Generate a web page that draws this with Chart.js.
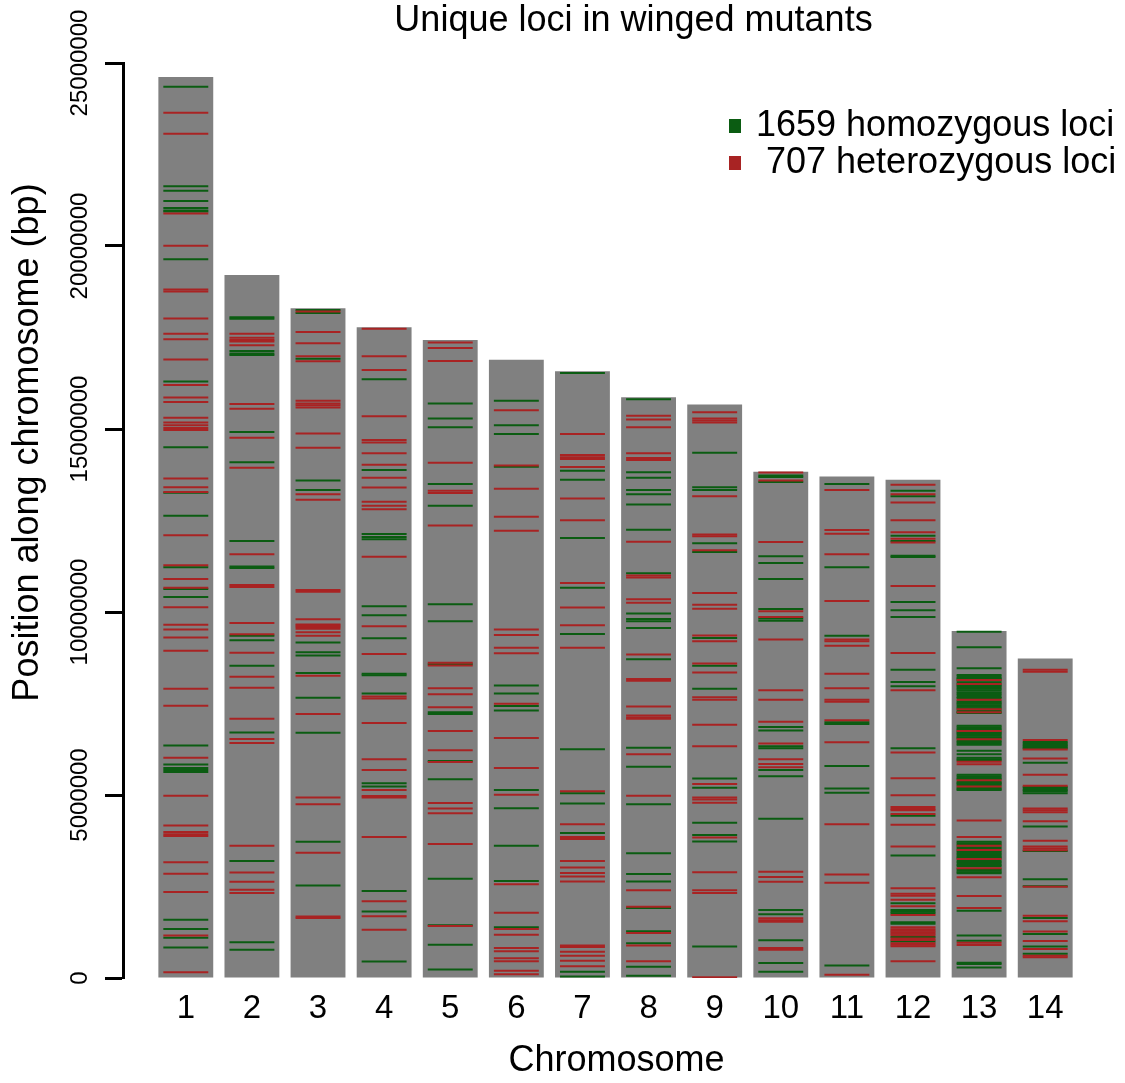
<!DOCTYPE html>
<html>
<head>
<meta charset="utf-8">
<title>Unique loci in winged mutants</title>
<script src="https://cdn.jsdelivr.net/npm/chart.js@4.4.1/dist/chart.umd.min.js"></script>
<style>
    html, body { margin: 0; padding: 0; background: #ffffff; }
    #wrap { width: 1125px; height: 1083px; }
</style>
</head>
<body>
<div id="wrap"><canvas id="lociChart" width="1125" height="1083"></canvas></div>
<script>
// Chromosome lengths (Mb) and locus positions (Mb), one inner list per chromosome
const chromosomes = [1, 2, 3, 4, 5, 6, 7, 8, 9, 10, 11, 12, 13, 14];
const chromLengthMb = [24.62, 19.21, 18.30, 17.78, 17.43, 16.89, 16.58, 15.87, 15.67, 13.83, 13.70, 13.61, 9.48, 8.73];
const yTicksMb = [0, 5, 10, 15, 20, 25];
const legendLabels = ['1659 homozygous loci', ' 707 heterozygous loci'];

const homozygousMb = [
    [24.35, 21.63, 21.51, 21.23, 21.04, 20.97, 20.94, 19.64, 16.30, 14.50, 13.26, 12.63, 11.22, 10.63, 10.41, 6.35, 5.83, 5.74, 5.68, 5.63, 1.59, 1.34, 1.10, 0.83],
    [18.05, 18.01, 17.13, 17.06, 17.02, 14.92, 14.09, 11.94, 11.24, 11.20, 9.35, 9.23, 8.53, 6.71, 3.20, 0.98, 0.77],
    [18.25, 18.17, 16.92, 13.59, 13.33, 9.17, 8.90, 8.81, 8.33, 7.66, 6.70, 3.72, 2.53],
    [16.36, 13.88, 12.13, 12.05, 11.99, 10.16, 9.91, 9.28, 8.31, 8.27, 7.77, 5.32, 5.23, 2.38, 1.82, 0.45],
    [15.70, 15.29, 15.05, 13.50, 12.90, 10.21, 9.75, 8.57, 7.26, 7.21, 5.93, 5.43, 2.71, 1.44, 0.91, 0.23],
    [15.77, 15.10, 14.86, 13.97, 7.99, 7.77, 7.43, 7.31, 5.14, 4.64, 3.61, 2.65, 1.39],
    [16.53, 13.86, 13.61, 12.02, 10.66, 9.40, 6.25, 5.05, 4.77, 3.96, 0.17, 0.04],
    [15.81, 13.82, 13.67, 13.33, 13.22, 12.94, 12.25, 11.06, 9.96, 9.81, 9.75, 9.56, 8.71, 6.29, 5.77, 4.75, 3.41, 2.84, 2.64, 1.91, 1.28, 0.95, 0.31, 0.06],
    [14.35, 13.41, 13.33, 11.88, 11.64, 9.29, 8.53, 7.90, 5.45, 5.20, 4.24, 3.91, 3.73, 0.86],
    [13.73, 13.69, 13.55, 11.52, 11.34, 10.90, 10.08, 9.82, 9.76, 6.86, 6.76, 6.33, 6.28, 5.68, 5.51, 4.35, 1.86, 1.74, 1.03, 0.41, 0.17],
    [13.50, 11.22, 9.35, 6.99, 6.94, 5.79, 5.18, 5.06, 0.34],
    [13.31, 13.16, 12.08, 11.94, 11.54, 11.50, 10.27, 10.05, 9.86, 8.42, 8.09, 7.97, 6.28, 4.43, 3.35, 2.04, 1.86, 1.81, 1.77, 1.52, 1.48, 1.12, 1.00],
    [9.46, 9.04, 8.46,
     8.28, 8.24, 8.20, 8.17, 8.12, 8.07, 8.01, 7.98, 7.94, 7.90, 7.86, 7.81, 7.77, 7.73, 7.68, 7.65, 7.56, 7.52, 7.49, 7.45, 7.41, 7.37, 7.31, 7.27, 7.24,
     6.89, 6.85, 6.81, 6.78, 6.72, 6.69, 6.66, 6.62, 6.58, 6.55, 6.48, 6.45, 6.41, 6.37,
     6.21, 6.11, 6.02, 5.98, 5.95,
     5.55, 5.51, 5.47, 5.44, 5.36, 5.33, 5.30, 5.26, 5.19, 5.16, 5.14,
     3.72, 3.68, 3.64, 3.57, 3.53, 3.46, 3.43, 3.39, 3.35, 3.31, 3.28, 3.21, 3.17, 3.13, 3.09, 3.05, 2.97, 2.93, 2.89, 2.86,
     1.84, 1.16, 1.02, 0.42, 0.38, 0.29],
    [6.45, 6.41, 6.37, 6.34, 6.30, 6.28, 5.88, 5.22, 5.18, 5.14, 5.10, 5.05, 4.14, 3.47, 2.70, 2.51, 1.64, 1.20, 0.86, 0.66]
];

const heterozygousMb = [
    [23.64, 23.07, 20.89, 20.01, 18.81, 18.76, 18.02, 17.60, 17.45, 16.90, 16.20, 15.86, 15.74, 15.31, 15.18, 15.10, 15.03, 14.97, 13.65, 13.41, 13.28, 12.10, 11.28, 10.90, 10.66, 10.13, 9.65, 9.52, 9.30, 8.94, 7.90, 7.44, 6.02, 4.98, 4.17, 3.99, 3.93, 3.88, 3.16, 2.85, 2.35, 1.16, 0.16],
    [17.60, 17.49, 17.43, 17.39, 17.29, 15.68, 15.55, 14.76, 13.94, 11.58, 10.74, 10.68, 9.70, 9.39, 8.89, 8.23, 7.93, 7.08, 6.53, 6.42, 3.61, 2.88, 2.63, 2.41, 2.32],
    [18.21, 17.65, 17.34, 16.99, 16.85, 15.77, 15.70, 15.65, 15.59, 14.88, 14.49, 13.22, 13.07, 10.60, 10.55, 9.80, 9.66, 9.63, 9.59, 9.54, 9.45, 9.35, 8.26, 7.21, 4.93, 4.75, 3.42, 1.68, 1.64],
    [17.74, 16.99, 16.61, 15.35, 14.70, 14.63, 14.34, 14.02, 13.67, 13.40, 13.01, 12.90, 12.81, 11.51, 9.61, 8.85, 7.69, 7.64, 6.97, 5.98, 5.68, 5.14, 4.97, 4.93, 3.85, 2.10, 1.69, 1.32],
    [17.36, 17.21, 16.86, 14.08, 13.31, 13.25, 12.36, 8.61, 8.54, 7.92, 7.75, 7.40, 6.75, 6.22, 5.90, 4.78, 4.63, 4.50, 3.66, 1.42],
    [15.51, 14.00, 13.37, 12.60, 12.22, 9.52, 9.37, 9.02, 8.87, 7.49, 6.56, 5.74, 5.01, 2.56, 1.78, 1.34, 1.18, 0.82, 0.73, 0.54, 0.46, 0.20, 0.10],
    [14.86, 14.29, 14.23, 14.18, 13.96, 13.10, 12.51, 10.79, 10.12, 9.64, 9.02, 5.10, 4.20, 3.85, 3.80, 3.20, 3.02, 2.87, 2.77, 2.64, 0.89, 0.85, 0.72, 0.61, 0.47, 0.32],
    [15.36, 15.26, 15.05, 14.34, 14.21, 14.15, 11.92, 11.00, 10.94, 10.35, 10.25, 8.84, 8.17, 8.12, 7.42, 7.17, 7.12, 7.08, 6.11, 4.98, 2.40, 1.95, 1.23, 0.89, 0.46],
    [15.46, 15.29, 15.23, 15.18, 13.16, 12.12, 12.07, 11.69, 10.52, 10.20, 10.09, 9.36, 9.20, 8.59, 8.35, 7.67, 7.60, 6.92, 6.33, 5.30, 4.93, 4.88, 4.79, 3.84, 2.89, 2.40, 2.32, 0.02],
    [13.81, 13.59, 11.91, 10.02, 9.86, 9.25, 7.86, 7.60, 7.00, 6.41, 5.98, 5.85, 5.76, 2.90, 2.76, 2.63, 1.63, 1.58, 1.54, 0.82, 0.77],
    [13.33, 12.24, 12.14, 11.58, 10.30, 9.25, 9.20, 9.08, 8.31, 7.92, 7.60, 7.55, 7.04, 6.44, 4.20, 2.83, 2.60, 0.09],
    [13.48, 13.22, 12.99, 12.51, 12.18, 12.00, 11.90, 10.71, 8.88, 7.86, 6.16, 5.46, 4.99, 4.67, 4.62, 4.58, 4.48, 4.19, 3.59, 2.45, 2.30, 2.25, 2.14, 1.96, 1.72, 1.39, 1.33, 1.29, 1.25, 1.21, 1.17, 1.08, 1.04, 0.95, 0.91, 0.87, 0.46],
    [8.14, 8.03, 7.60, 7.34, 7.26, 6.75, 6.52, 5.91, 5.84, 5.40, 5.23, 4.30, 3.85, 3.61, 3.50, 3.25, 3.00, 2.75, 2.24, 1.91, 0.96, 0.90],
    [8.42, 8.37, 6.50, 6.24, 6.00, 5.55, 5.25, 4.63, 4.58, 4.53, 4.28, 3.75, 3.59, 3.54, 3.49, 2.49, 1.70, 1.55, 1.27, 1.01, 0.79, 0.61, 0.57]
];

const FONT = '"Liberation Sans", Arial, Helvetica, sans-serif';
const HOM_COLOR = '#0b5c12';
const HET_COLOR = '#a82323';
const MAIN_TITLE = 'Unique loci in winged mutants';
const Y_TITLE = 'Position along chromosome (bp)';

function toPoints(lists) {
    const pts = [];
    lists.forEach((list, i) => list.forEach(pos => pts.push({ x: chromosomes[i], y: pos })));
    return pts;
}

// half length of a locus tick, a fixed share of the spacing between chromosomes
function tickHalfLength(ctx) {
    const x = ctx.chart.scales.x;
    return (x.getPixelForValue(2) - x.getPixelForValue(1)) * 0.34;
}

// main title, vertical y tick labels and the y title
const chartText = {
    id: 'chartText',
    afterDraw(chart) {
        const ctx = chart.ctx;
        const y = chart.scales.y;
        const area = chart.chartArea;
        ctx.save();
        ctx.fillStyle = '#000';
        ctx.textAlign = 'center';
        ctx.textBaseline = 'middle';

        ctx.font = '36px ' + FONT;
        ctx.fillText(MAIN_TITLE, (area.left + area.right) / 2 + 17, 21);

        ctx.font = '24px ' + FONT;
        y.ticks.forEach(t => {
            ctx.save();
            ctx.translate(y.right - 43, y.getPixelForValue(t.value));
            ctx.rotate(-Math.PI / 2);
            ctx.fillText(String(Math.round(t.value * 1e6)), 0, 0);
            ctx.restore();
        });

        ctx.font = '36px ' + FONT;
        ctx.translate(28, (area.top + area.bottom) / 2 - 78);
        ctx.rotate(-Math.PI / 2);
        ctx.fillText(Y_TITLE, 0, 0);
        ctx.restore();
    }
};

const lociLegend = {
    id: 'lociLegend',
    afterDraw(chart) {
        const ctx = chart.ctx;
        const area = chart.chartArea;
        const items = chart.data.datasets.filter(d => d.type === 'scatter');
        ctx.save();
        ctx.font = '36px ' + FONT;
        ctx.textBaseline = 'middle';
        ctx.textAlign = 'left';
        items.forEach((d, i) => {
            const cy = area.top + 63 + i * 37;
            ctx.fillStyle = d.pointBorderColor;
            ctx.fillRect(area.right - 381, cy - 7, 12, 14);
            ctx.fillStyle = '#000';
            ctx.fillText(d.label, area.right - 354, cy);
        });
        ctx.restore();
    }
};

Chart.defaults.font.family = FONT;
Chart.defaults.color = '#000';

new Chart(document.getElementById('lociChart'), {
    type: 'bar',
    data: {
        datasets: [
            {
                type: 'scatter',
                label: legendLabels[0],
                data: toPoints(homozygousMb),
                pointStyle: 'line',
                pointRadius: tickHalfLength,
                pointHoverRadius: tickHalfLength,
                pointBorderWidth: 2,
                pointBorderColor: HOM_COLOR,
                pointBackgroundColor: HOM_COLOR,
                order: 2
            },
            {
                type: 'scatter',
                label: legendLabels[1],
                data: toPoints(heterozygousMb),
                pointStyle: 'line',
                pointRadius: tickHalfLength,
                pointHoverRadius: tickHalfLength,
                pointBorderWidth: 2,
                pointBorderColor: HET_COLOR,
                pointBackgroundColor: HET_COLOR,
                order: 1
            },
            {
                type: 'bar',
                label: 'Chromosome length',
                data: chromosomes.map((c, i) => ({ x: c, y: chromLengthMb[i] })),
                backgroundColor: '#808080',
                borderWidth: 0,
                barPercentage: 0.83,
                categoryPercentage: 1,
                order: 3
            }
        ]
    },
    options: {
        responsive: false,
        animation: false,
        events: [],
        layout: { padding: { left: 0, right: 15, top: 63, bottom: 0 } },
        scales: {
            x: {
                type: 'linear',
                offset: false,
                min: 0.05,
                max: 14.98,
                afterBuildTicks: s => { s.ticks = chromosomes.map(c => ({ value: c })); },
                afterFit: s => { s.height = 105; },
                grid: { display: false, drawTicks: false },
                border: { display: false },
                ticks: {
                    font: { size: 33 },
                    padding: 11,
                    autoSkip: false,
                    maxRotation: 0,
                    callback: v => String(v)
                },
                title: {
                    display: true,
                    text: 'Chromosome',
                    font: { size: 36 },
                    padding: { top: 0, bottom: 0 }
                }
            },
            y: {
                type: 'linear',
                min: 0,
                max: 25,
                afterBuildTicks: s => { s.ticks = yTicksMb.map(v => ({ value: v })); },
                afterFit: s => { s.width = 123; },
                grid: {
                    drawOnChartArea: false,
                    drawTicks: true,
                    tickLength: 18,
                    tickWidth: 3,
                    tickColor: '#000'
                },
                border: { display: true, width: 3, color: '#000' },
                ticks: { display: false }
            }
        },
        plugins: {
            legend: { display: false },
            tooltip: { enabled: false },
            title: { display: false }
        }
    },
    plugins: [chartText, lociLegend]
});
</script>
</body>
</html>
